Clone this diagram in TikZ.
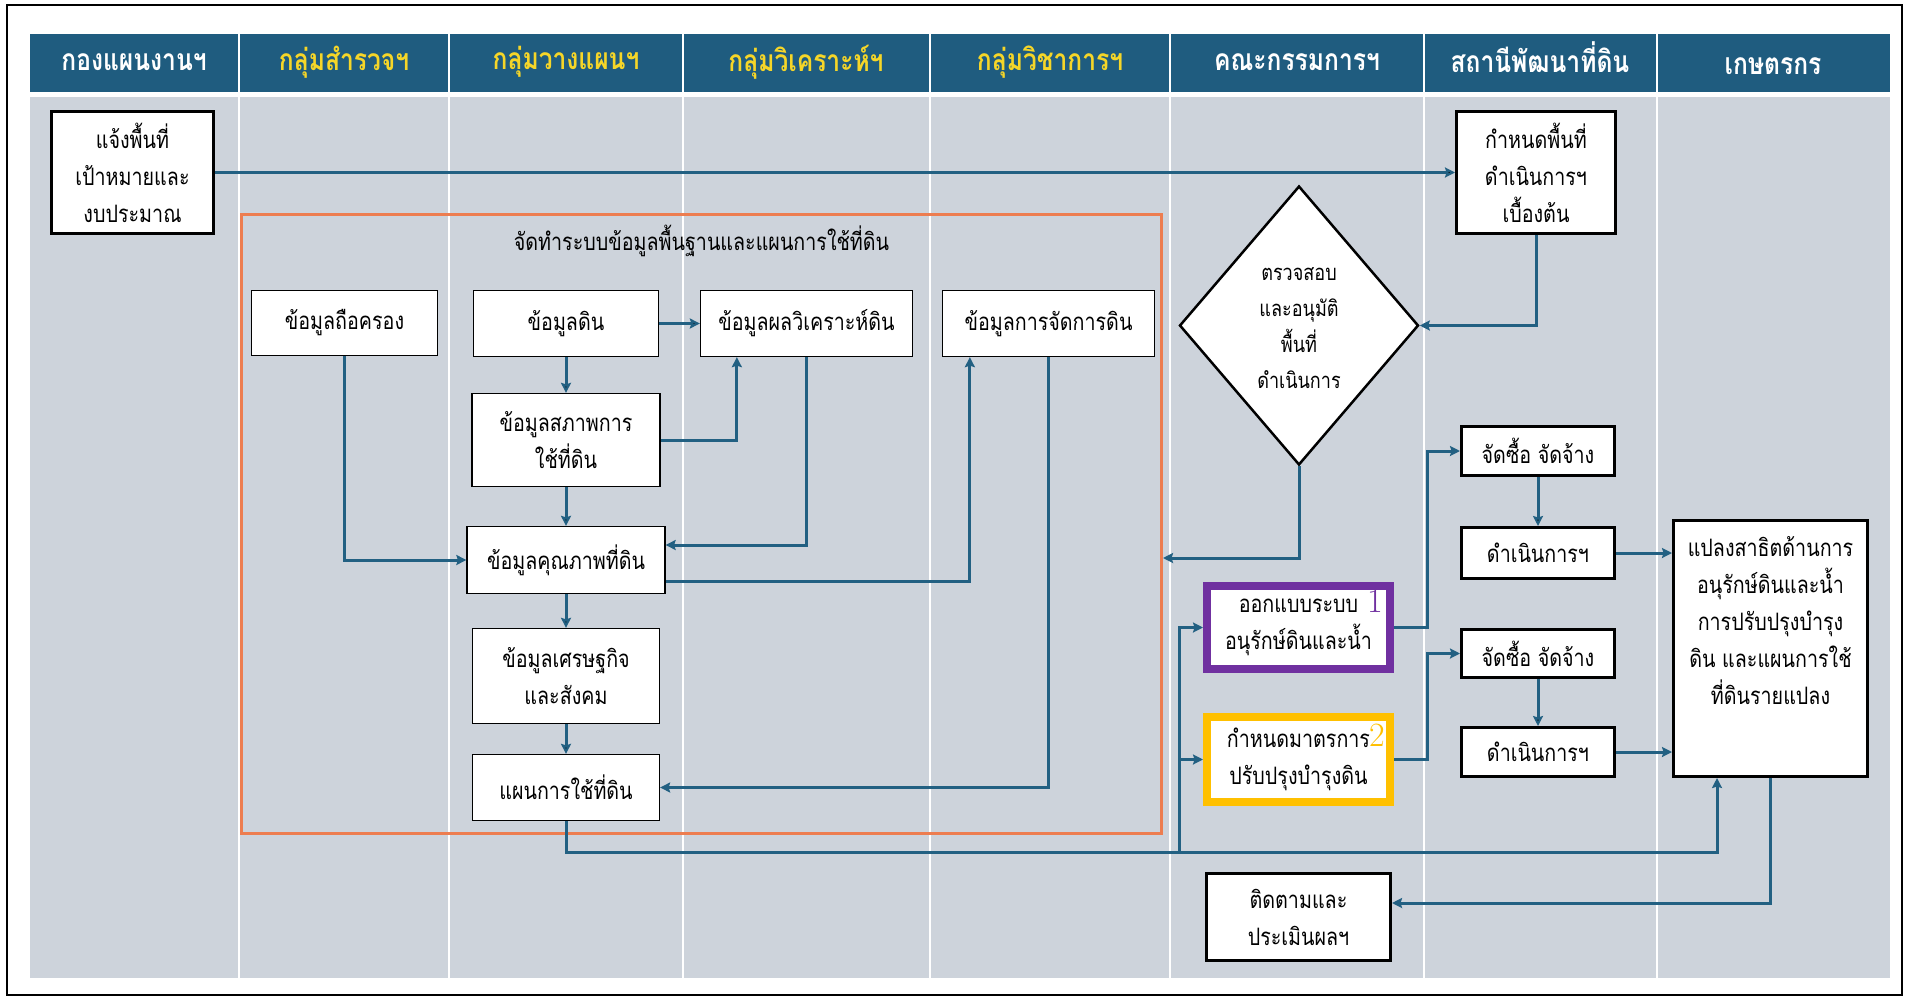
\documentclass[tikz,border=0pt]{standalone}
\usepackage{fontspec}
\usepackage{tikz}
\usetikzlibrary{shapes.geometric,positioning,arrows.meta}

\newfontfamily\thaifont[Script=Thai,FakeStretch=0.82]{Loma}

\definecolor{lanehead}{RGB}{31,92,127}
\definecolor{lanebody}{RGB}{205,211,219}
\definecolor{flowline}{RGB}{34,96,130}
\definecolor{groupline}{RGB}{237,125,80}
\definecolor{headyellow}{RGB}{246,214,40}
\definecolor{markpurple}{RGB}{112,48,160}
\definecolor{markgold}{RGB}{255,192,0}

\begin{document}
\begin{tikzpicture}[
  x=1pt, y=-1pt,
  >={Stealth[length=10pt, width=10pt, inset=1.5pt]},
  font=\thaifont\fontsize{24}{37}\selectfont,
  flow/.style={draw=flowline, line width=3, ->},
  headtext/.style={font=\thaifont\bfseries\fontsize{30}{32}\selectfont, text=white},
  every node/.style={inner sep=2}
]
  \tikzstyle{taskbox}=[draw=black, line width=3, fill=white, align=center]
  \tikzstyle{databox}=[draw=black, line width=1.3, fill=white, align=center]

  \useasboundingbox (0,0) rectangle (1909,998);

  % Lanes
  \fill[white] (0,0) rectangle (1909,998);
  \draw[line width=2] (7,5) rectangle (1902,995);
  \fill[lanehead] (30,34) rectangle (1890,92);
  \fill[lanebody] (30,97) rectangle (1890,978);
  \draw[white, line width=1.2]
    (239,34) -- (239,978) (449,34) -- (449,978) (683,34) -- (683,978)
    (930,34) -- (930,978) (1170,34) -- (1170,978) (1424,34) -- (1424,978)
    (1657,34) -- (1657,978);

  % Lane headers
  \node[headtext] (hplan) at (134,62) {กองแผนงานฯ};
  \node[headtext, text=headyellow] (hsurvey) at (344,62) {กลุ่มสำรวจฯ};
  \node[headtext, text=headyellow] (hplanning) at (566,62) {กลุ่มวางแผนฯ};
  \node[headtext, text=headyellow] (hanalysis) at (806,62) {กลุ่มวิเคราะห์ฯ};
  \node[headtext, text=headyellow] (hacademic) at (1050,62) {กลุ่มวิชาการฯ};
  \node[headtext] (hcommittee) at (1297,62) {คณะกรรมการฯ};
  \node[headtext] (hstation) at (1540,57) {สถานีพัฒนาที่ดิน};
  \node[headtext] (hfarmer) at (1773,66) {เกษตรกร};

  % Main nodes
  \node[taskbox, minimum width=162, minimum height=122] (notify) at (132.5,172.5) {แจ้งพื้นที่\\เป้าหมายและ\\งบประมาณ};
  \node[taskbox, minimum width=159, minimum height=122] (initarea) at (1536,172.5) {กำหนดพื้นที่\\ดำเนินการฯ\\เบื้องต้น};

  % Basic data group
  \node[draw=groupline, line width=3, minimum width=920, minimum height=619] (infoframe) at (701.5,524) {};
  \node (frametitle) at ([yshift=-28]infoframe.north) {จัดทำระบบข้อมูลพื้นฐานและแผนการใช้ที่ดิน};

  \node[databox, minimum width=186, minimum height=65] (holding) at (344.5,323) {ข้อมูลถือครอง};
  \node[databox, minimum width=185, minimum height=66] (soil) at (566,323.5) {ข้อมูลดิน};
  \node[databox, minimum width=212, minimum height=66] (analysis) at (806.5,323.5) {ข้อมูลผลวิเคราะห์ดิน};
  \node[databox, minimum width=212, minimum height=66] (manage) at (1048.5,323.5) {ข้อมูลการจัดการดิน};
  \node[databox, minimum width=188, minimum height=93] (landuse) at (566,440) {ข้อมูลสภาพการ\\ใช้ที่ดิน};
  \node[databox, minimum width=198, minimum height=67] (quality) at (566,560) {ข้อมูลคุณภาพที่ดิน};
  \node[databox, minimum width=187, minimum height=95] (socio) at (566,676) {ข้อมูลเศรษฐกิจ\\และสังคม};
  \node[databox, minimum width=187, minimum height=66] (plan) at (566,787.5) {แผนการใช้ที่ดิน};

  % Committee
  \node[draw=black, line width=2.5, fill=white, diamond, aspect=0.86, inner sep=0,
        minimum width=239, minimum height=279, align=center,
        font=\thaifont\fontsize{22}{36}\selectfont] (check) at (1299,325.5) {\mbox{}\\[-18pt]ตรวจสอบ\\และอนุมัติ\\พื้นที่\\ดำเนินการ};
  \node[draw=markpurple, line width=8, fill=white, align=center, minimum width=183, minimum height=83] (design) at (1298.5,627.5) {ออกแบบระบบ\\อนุรักษ์ดินและน้ำ};
  \node[draw=markgold, line width=8, fill=white, align=center, minimum width=183, minimum height=85] (measure) at (1298.5,759.5) {กำหนดมาตรการ\\ปรับปรุงบำรุงดิน};
  \node[text=markpurple, font=\rmfamily\fontsize{34}{34}\selectfont] (num1) at (1375,601) {1};
  \node[text=markgold, font=\rmfamily\fontsize{34}{34}\selectfont] (num2) at (1377,735) {2};
  \node[taskbox, minimum width=184, minimum height=87] (follow) at (1298.5,917) {ติดตามและ\\ประเมินผลฯ};

  % Station
  \node[taskbox, minimum width=153, minimum height=49] (buy1) at (1538,451) {จัดซื้อ จัดจ้าง};
  \node[taskbox, minimum width=153, minimum height=51] (run1) at (1538,553) {ดำเนินการฯ};
  \node[taskbox, minimum width=153, minimum height=48] (buy2) at (1538,653.5) {จัดซื้อ จัดจ้าง};
  \node[taskbox, minimum width=153, minimum height=49] (run2) at (1538,752) {ดำเนินการฯ};

  % Farmer
  \node[taskbox, minimum width=194, minimum height=256] (demo) at (1770.5,648.5) {แปลงสาธิตด้านการ\\อนุรักษ์ดินและน้ำ\\การปรับปรุงบำรุง\\ดิน และแผนการใช้\\ที่ดินรายแปลง\\[20pt]\mbox{}};

  % --- Edges ---
  \path[flow] (notify) edge (initarea);
  \path[flow] (soil) edge (analysis);
  \path[flow] (soil) edge (landuse);
  \path[flow] (landuse) edge (quality);
  \path[flow] (quality) edge (socio);
  \path[flow] (socio) edge (plan);
  \draw[flow] (landuse.east) -| ([xshift=37]analysis.south west);
  \draw[flow] (holding.south) |- (quality.west);
  \draw[flow] (analysis.south) |- ([yshift=15]quality.east);
  \draw[flow] ([yshift=-21]quality.east) -| ([xshift=28]manage.south west);
  \draw[flow] (manage.south) |- (plan.east);

  % Approval
  \draw[flow] (initarea.south) |- (check.east);
  \draw[flow] (check.south) |- ([yshift=-34]infoframe.east);

  % Plan out to the field
  \coordinate (bus) at (1179,852);
  \draw[flow] (plan.south) |- (bus) -| ([xshift=45]demo.south west);
  \draw[flow] (bus) |- (design.west);
  \draw[flow] (bus) |- (measure.west);
  \draw[flow] (design.east) -| ([xshift=-33]buy1.west) -- (buy1.west);
  \draw[flow] (measure.east) -| ([xshift=-33]buy2.west) -- (buy2.west);
  \path[flow] (buy1) edge (run1);
  \path[flow] (buy2) edge (run2);
  \draw[flow] (run1.east) -- (run1.east -| demo.west);
  \draw[flow] (run2.east) -- (run2.east -| demo.west);
  \draw[flow] (demo.south) |- ([yshift=14]follow.east);
\end{tikzpicture}
\end{document}
